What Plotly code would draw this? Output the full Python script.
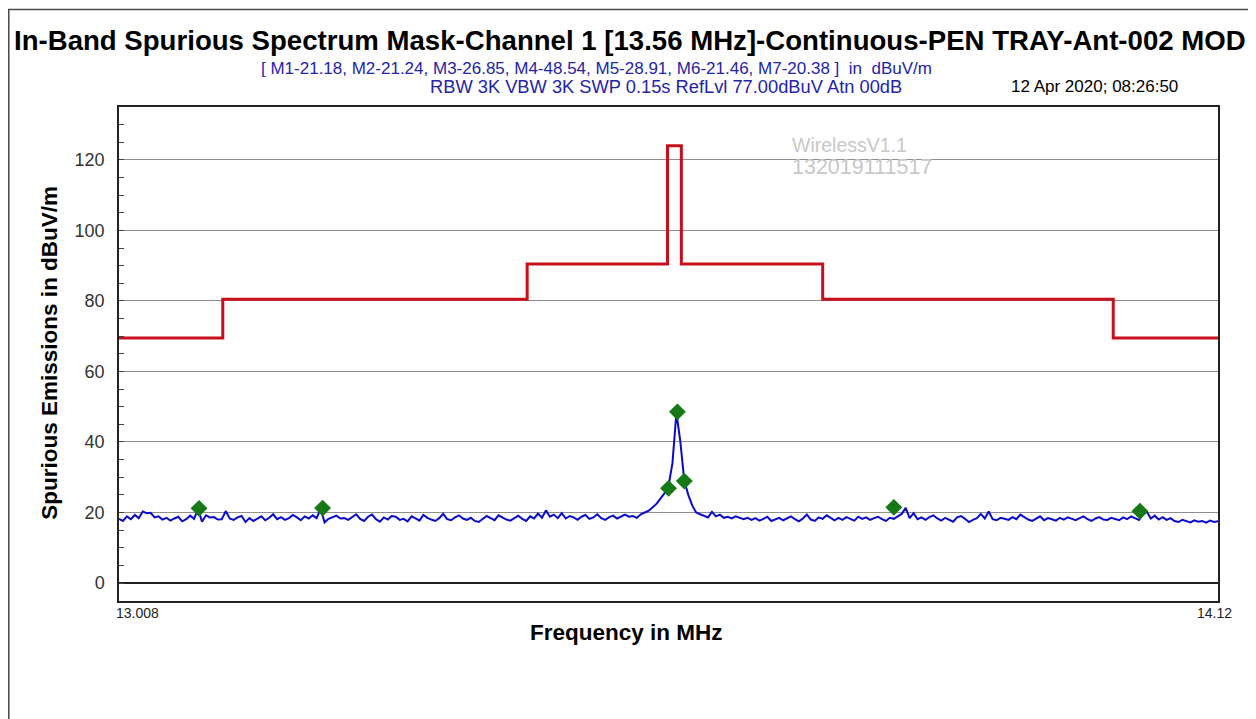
import numpy as np
import plotly.graph_objects as go

# spectrum sweep (dBuV/m), evenly spaced from 13.008 to 14.12 MHz
freq_start = 13.008
freq_stop = 14.12
levels = [
    18.2, 17.6, 18.9, 18.1, 19.3, 18.4, 20.3, 19.8, 19.9, 18.6,
    18.9, 18.0, 18.5, 17.7, 18.3, 18.8, 17.5, 18.1, 19.1, 18.2,
    21.0, 17.4, 19.2, 18.6, 18.7, 18.0, 18.1, 20.4, 18.3, 17.9,
    18.6, 19.0, 17.3, 18.4, 17.6, 18.2, 18.9, 17.8, 18.5, 19.5,
    18.1, 18.7, 17.9, 18.4, 19.3, 18.6, 17.8, 18.9, 18.3, 19.2,
    18.4, 21.1, 17.2, 18.2, 18.6, 19.1, 18.3, 18.4, 17.9, 18.7,
    19.5, 18.2, 17.6, 18.8, 19.4, 18.1, 17.4, 18.6, 18.0, 19.0,
    18.8, 17.9, 18.2, 17.5, 18.9, 18.3, 17.7, 19.3, 18.5, 18.0,
    17.6, 18.4, 19.6, 18.1, 17.8, 18.6, 19.2, 18.3, 17.9, 18.5,
    17.6, 17.3, 18.2, 19.0, 18.4, 17.8, 19.2, 18.6, 18.0, 17.7,
    18.4, 19.1, 18.2, 17.6, 18.9, 18.3, 19.7, 18.5, 20.6, 18.8,
    19.4, 18.4, 19.8, 18.3, 19.0, 18.6, 17.9, 18.8, 19.3, 18.2,
    18.6, 19.5, 18.4, 17.9, 18.7, 19.1, 18.3, 18.9, 19.4, 18.8,
    19.0, 18.5, 19.5, 20.0, 20.5, 21.5, 22.5, 24.0, 25.5, 27.5,
    34.0, 48.3, 40.0, 29.0, 25.0, 22.0, 20.0, 19.5, 19.0,
    18.6, 20.2, 18.9, 19.4, 18.5, 18.8, 18.3, 18.9, 18.6, 18.1, 18.5,
    17.9, 18.4, 17.7, 18.2, 18.8, 17.6, 18.0, 18.5, 17.8, 18.3,
    18.9, 18.1, 17.5, 18.3, 19.4, 18.0, 17.6, 18.6, 18.2, 19.2,
    18.4, 17.8, 18.5, 17.9, 18.7, 18.3, 17.7, 18.8, 18.2, 18.6,
    17.9, 18.4, 18.8, 18.1, 17.6, 18.5, 18.2, 18.9, 19.6, 21.3,
    18.4, 19.8, 18.1, 18.6, 17.9, 18.7, 19.2, 18.3, 17.7, 18.5,
    18.0, 17.4, 18.6, 19.0, 18.2, 17.3, 17.9, 18.4, 19.6, 18.3,
    20.3, 18.1, 17.8, 18.5, 18.2, 17.9, 18.7, 18.1, 19.4, 18.6,
    18.0, 17.6, 18.3, 18.9, 17.8, 18.4, 18.1, 17.7, 18.5, 18.0,
    18.6, 18.2, 17.8, 18.4, 18.9, 18.1, 17.6, 18.3, 18.7, 18.0,
    17.9, 18.5, 18.2, 17.8, 18.6, 18.1, 18.9, 18.3, 17.9, 19.4,
    20.2, 18.3, 19.1, 18.0, 18.7, 17.9, 18.4, 17.6, 17.3, 17.9,
    17.5, 17.2, 17.8, 17.4, 17.6, 17.1, 17.7, 17.3, 17.5,
]

# limit mask (step line)
mask_freq = [13.008, 13.113, 13.421, 13.563, 13.577, 13.720, 14.014, 14.12]
mask_level = [69.5, 80.5, 90.5, 124.0, 90.5, 80.5, 69.5, 69.5]

# markers
marker_names = ["M1", "M2", "M3", "M4", "M5", "M6", "M7"]
marker_freq = [13.089, 13.214, 13.564, 13.573, 13.580, 13.792, 14.041]
marker_level = [21.18, 21.24, 26.85, 48.54, 28.91, 21.46, 20.38]

y_ticks = [0, 20, 40, 60, 80, 100, 120]
x_tick_labels = ["13.008", "14.12"]

freq = np.linspace(freq_start, freq_stop, len(levels))

fig = go.Figure()
fig.add_trace(go.Scatter(
    x=mask_freq, y=mask_level, mode="lines", line_shape="hv",
    line=dict(color="#c8101c", width=3), hoverinfo="skip"
))
fig.add_trace(go.Scatter(
    x=freq, y=levels, mode="lines",
    line=dict(color="#0a0acc", width=2)
))
fig.add_trace(go.Scatter(
    x=marker_freq, y=marker_level, mode="markers", text=marker_names,
    marker=dict(symbol="diamond", size=13, color="#157a15")
))

marker_txt = ", ".join(f"{n}-{v:.2f}" for n, v in zip(marker_names, marker_level))

blue = "#2424a8"
ann = [
    dict(text="<b>In-Band Spurious Spectrum Mask-Channel 1 [13.56 MHz]-Continuous-PEN TRAY-Ant-002 MOD</b>",
         x=0.465, y=1.1356, font=dict(size=27.6, color="black"), xanchor="center"),
    dict(text="[ " + marker_txt + " ]  in  dBuV/m",
         x=0.4345, y=1.077, font=dict(size=17, color=blue), xanchor="center"),
    dict(text="RBW 3K VBW 3K SWP 0.15s RefLvl 77.00dBuV Atn 00dB",
         x=0.4977, y=1.0405, font=dict(size=18.3, color=blue), xanchor="center"),
    dict(text="12 Apr 2020; 08:26:50",
         x=0.888, y=1.0405, font=dict(size=17, color="black"), xanchor="center"),
    dict(text="WirelessV1.1", x=0.6106, y=0.923, xanchor="left",
         font=dict(size=19.5, color="#c8c8c8")),
    dict(text="132019111517", x=0.6106, y=0.8785, xanchor="left",
         font=dict(size=21.5, color="#c8c8c8")),
    dict(text="<b>Frequency in MHz</b>", x=0.4622, y=-0.0628, xanchor="center",
         font=dict(size=22.5, color="black")),
    dict(text="<b>Spurious Emissions in dBuV/m</b>", x=-0.064, y=0.502, xanchor="center",
         textangle=-90, font=dict(size=22.5, color="black")),
]
for a in ann:
    a.update(xref="paper", yref="paper", yanchor="middle", showarrow=False)
    a["font"]["family"] = "Liberation Sans"

# x tick labels at the two ends of the sweep
ann.append(dict(text=x_tick_labels[0], x=float(x_tick_labels[0]), y=-0.025, xref="x", yref="paper",
                xanchor="left", xshift=-5, yanchor="middle", showarrow=False,
                font=dict(size=14, color="#222", family="Liberation Sans")))
ann.append(dict(text=x_tick_labels[1], x=float(x_tick_labels[1]), y=-0.025, xref="x", yref="paper",
                xanchor="center", xshift=-4, yanchor="middle", showarrow=False,
                font=dict(size=14, color="#222", family="Liberation Sans")))

# page body adds an 8px offset, so the figure is 8px smaller than the window
fig.update_layout(
    width=1248, height=711,
    margin=dict(l=111, r=38, t=99, b=118, autoexpand=False),
    paper_bgcolor="white", plot_bgcolor="white",
    showlegend=False,
    annotations=ann,
    shapes=[dict(type="rect", xref="paper", yref="paper",
                 x0=-0.1003, x1=1.0300, y0=-0.3, y1=1.1975,
                 line=dict(color="#4a4a4a", width=1.5), layer="below")],
    xaxis=dict(range=[freq_start, freq_stop], showgrid=False, zeroline=False,
               showticklabels=False, ticks="",
               showline=True, mirror=True, linecolor="#222", linewidth=1.5),
    yaxis=dict(range=[-5.1, 135], tickvals=y_ticks, showgrid=True, gridcolor="#8e8e8e", gridwidth=1,
               zeroline=True, zerolinecolor="#222", zerolinewidth=1.5,
               ticks="inside", ticklen=5, tickcolor="#444",
               minor=dict(dtick=5, ticks="inside", ticklen=5, tickcolor="#444", showgrid=False),
               ticklabelstandoff=9,
               tickfont=dict(size=18, color="#333", family="Liberation Sans"),
               showline=True, mirror=True, linecolor="#222", linewidth=1.5),
)

fig.write_html("out.html")
